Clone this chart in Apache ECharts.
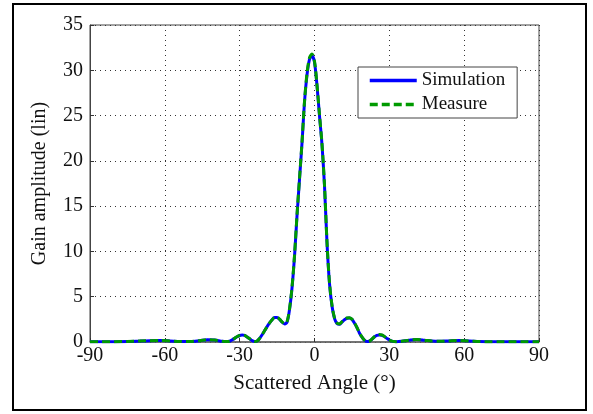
<!DOCTYPE html>
<html><head><meta charset="utf-8">
<script src="https://cdn.jsdelivr.net/npm/echarts@6/dist/echarts.min.js"></script>
<style>html,body{margin:0;padding:0;background:#fff}#c{width:593px;height:414px}</style>
</head><body><div id="c"></div>
<script>
var angles = [-90,-85,-80,-75,-70,-66,-62,-58,-54,-50,-46,-43,-40,-37,-35,-34,-33,-32,-31,-30,-29,-28,-27,-26,-25,-24,-23,-22,-21,-20,-19,-18,-17,-16,-15,-14,-13,-12,-11,-10,-9,-8,-7,-6,-5,-4,-3,-2,-1,0,1,2,3,4,5,6,7,8,9,10,11,12,13,14,15,16,17,18,19,20,21,22,23,24,25,26,27,28,29,30,31,32,33,35,38,41,44,47,50,54,58,62,66,70,75,80,85,90];
var simulation = [0.02,0.02,0.03,0.05,0.10,0.14,0.16,0.12,0.06,0.05,0.15,0.25,0.22,0.08,0.05,0.10,0.25,0.40,0.58,0.72,0.78,0.72,0.55,0.35,0.15,0.05,0.10,0.40,0.80,1.25,1.70,2.10,2.45,2.70,2.70,2.50,2.20,2.00,2.20,3.60,6.00,9.50,14.0,18.0,22.0,26.5,29.5,31.2,31.6,30.9,28.3,25.0,21.8,17.3,11.0,6.5,4.0,2.6,2.05,1.95,2.20,2.45,2.62,2.65,2.50,2.10,1.60,1.00,0.55,0.20,0.05,0.10,0.30,0.55,0.72,0.78,0.75,0.60,0.40,0.22,0.10,0.05,0.03,0.08,0.20,0.28,0.20,0.10,0.07,0.12,0.16,0.12,0.05,0.03,0.02,0.02,0.02,0.02];
var measure = [0.02,0.02,0.03,0.06,0.11,0.15,0.17,0.12,0.06,0.05,0.15,0.26,0.22,0.08,0.05,0.10,0.25,0.42,0.60,0.74,0.80,0.73,0.55,0.35,0.15,0.05,0.10,0.40,0.80,1.25,1.70,2.10,2.45,2.72,2.72,2.52,2.22,2.02,2.25,3.70,6.10,9.60,14.1,18.1,22.1,26.6,29.7,31.4,31.8,31.0,28.4,25.1,21.9,17.4,11.1,6.6,4.1,2.7,2.10,2.00,2.25,2.50,2.65,2.68,2.52,2.12,1.62,1.02,0.56,0.20,0.05,0.10,0.32,0.58,0.76,0.82,0.78,0.62,0.40,0.22,0.10,0.05,0.03,0.08,0.20,0.28,0.20,0.10,0.07,0.12,0.16,0.12,0.05,0.03,0.02,0.02,0.02,0.02];
var xTicks = [-90,-60,-30,0,30,60,90];
var yTicks = [0,5,10,15,20,25,30,35];

function pairs(xs, ys){ return xs.map(function(x,i){ return [x, ys[i]]; }); }

var font = '"Liberation Serif","Times New Roman",serif';
var chart = echarts.init(document.getElementById('c'), null, {renderer:'canvas'});
chart.setOption({
  animation:false,
  backgroundColor:'#fff',
  grid:{left:90, top:25, right:54, bottom:72, show:true, borderColor:'#444', borderWidth:1, backgroundColor:'transparent'},
  xAxis:{type:'value', min:xTicks[0], max:xTicks[xTicks.length-1], interval:30,
    name:'Scattered Angle (°)', nameLocation:'middle', nameGap:31,
    nameTextStyle:{fontFamily:font, fontSize:21, color:'#111'},
    axisLine:{show:true, onZero:false, lineStyle:{color:'#666', width:1.5}},
    axisTick:{show:true, inside:true, length:4, lineStyle:{color:'#333'}},
    axisLabel:{fontFamily:font, fontSize:20, color:'#111', margin:4},
    splitLine:{show:true, lineStyle:{color:'#333', type:[1,4], width:1}}},
  yAxis:{type:'value', min:yTicks[0], max:yTicks[yTicks.length-1], interval:5,
    name:'Gain amplitude (lin)', nameLocation:'middle', nameGap:40,
    nameTextStyle:{fontFamily:font, fontSize:20, color:'#111'},
    axisLine:{show:true, onZero:false, lineStyle:{color:'#444', width:1}},
    axisTick:{show:true, inside:true, length:4, lineStyle:{color:'#333'}},
    axisLabel:{fontFamily:font, fontSize:20, color:'#111', margin:7},
    splitLine:{show:true, lineStyle:{color:'#333', type:[1,4], width:1}}},
  legend:{orient:'vertical', left:358, top:67, padding:[4,12,4,10], itemGap:5,
    itemWidth:47, itemHeight:14, backgroundColor:'#fff', borderColor:'#444', borderWidth:1,
    itemStyle:{opacity:0}, lineStyle:{width:3.5},
    textStyle:{fontFamily:font, fontSize:19, color:'#111'},
    data:['Simulation','Measure']},
  series:[
    {name:'Simulation', type:'line', data:pairs(angles, simulation), symbol:'none', smooth:0.3,
      lineStyle:{color:'#0000ff', width:3}, itemStyle:{color:'#0000ff'}, z:2},
    {name:'Measure', type:'line', data:pairs(angles, measure), symbol:'none', smooth:0.3,
      lineStyle:{color:'#009a00', width:3, type:[8,4]}, itemStyle:{color:'#009a00'}, z:3}
  ],
  graphic:[{type:'rect', shape:{x:13, y:4, width:573, height:406}, style:{fill:'none', stroke:'#000', lineWidth:2}, silent:true}]
});
</script></body></html>
